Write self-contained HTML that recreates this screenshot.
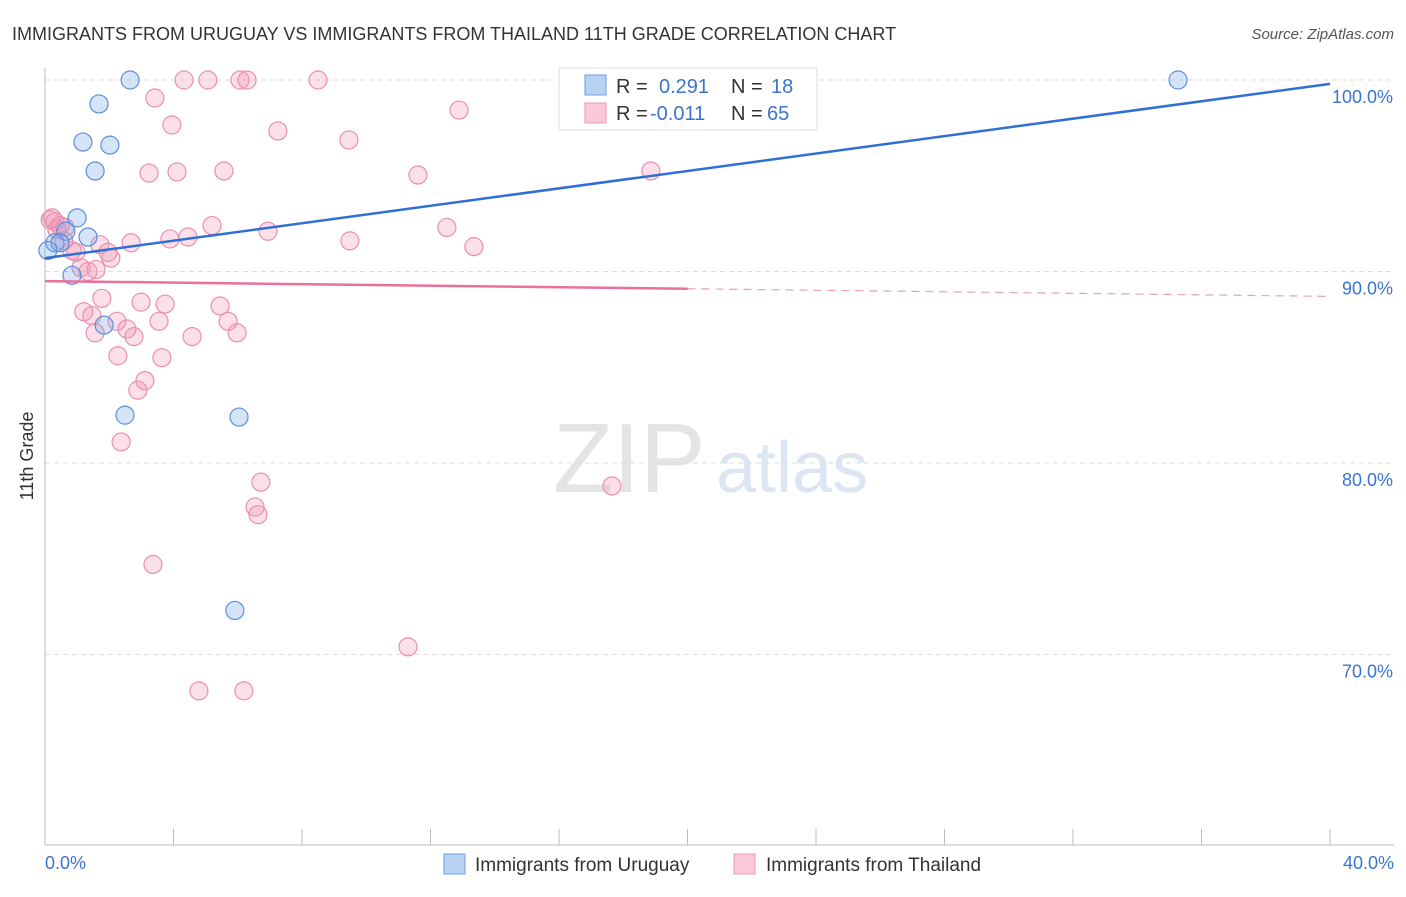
<!DOCTYPE html>
<html><head><meta charset="utf-8"><style>
body{margin:0;background:#fff;font-family:"Liberation Sans",sans-serif;}
svg text{font-family:"Liberation Sans",sans-serif;}
</style></head><body>
<svg id="chart" width="1406" height="892" xmlns="http://www.w3.org/2000/svg">
<text x="12" y="40" font-size="18" fill="#333">IMMIGRANTS FROM URUGUAY VS IMMIGRANTS FROM THAILAND 11TH GRADE CORRELATION CHART</text>
<text x="1394" y="39" font-size="15" fill="#555" text-anchor="end" font-style="italic">Source: ZipAtlas.com</text>
<g>
<text x="553" y="492" font-size="98" fill="#e4e4e4" font-family="Liberation Serif">ZIP</text>
<text x="716" y="492" font-size="72" fill="#dce6f3">atlas</text>
</g>
<g id="grid"></g>
<g id="axes"></g>
<g id="pts"></g>
<g id="trend"></g>
<text x="33" y="456" font-size="18" fill="#333" text-anchor="middle" transform="rotate(-90 33 456)">11th Grade</text>
<g>
<rect x="559" y="68" width="258" height="62" fill="#fff" stroke="#ddd"/>
<rect x="585" y="75" width="21" height="20" fill="#b8d2f4" stroke="#6c9ce0"/>
<rect x="585" y="103" width="21" height="20" fill="#f9c9d7" stroke="#ee9ab5"/>
<text x="616" y="93" font-size="20" fill="#333">R = </text><text x="659" y="93" font-size="20" fill="#3a74d0">0.291</text>
<text x="731" y="93" font-size="20" fill="#333">N = </text><text x="771" y="93" font-size="20" fill="#3a74d0">18</text>
<text x="616" y="120" font-size="20" fill="#333">R = </text><text x="650" y="120" font-size="20" fill="#3a74d0">-0.011</text>
<text x="731" y="120" font-size="20" fill="#333">N = </text><text x="767" y="120" font-size="20" fill="#3a74d0">65</text>
</g>
<g>
<rect x="444" y="854" width="21" height="20" fill="#b8d2f4" stroke="#6c9ce0"/>
<text x="475" y="871" font-size="19" fill="#333">Immigrants from Uruguay</text>
<rect x="734" y="854" width="21" height="20" fill="#f9c9d7" stroke="#ee9ab5"/>
<text x="766" y="871" font-size="19" fill="#333">Immigrants from Thailand</text>
</g>
</svg>
<script>
const xTickLabels=["0.0%","40.0%"];
const yTicks=[100,90,80,70];
const yTickLabels=["100.0%","90.0%","80.0%","70.0%"];
const uruguayX=[2.65,1.68,1.18,2.02,1.56,1.00,1.34,0.65,0.31,0.47,0.09,0.84,1.84,2.49,6.04,5.91,23.56,35.27];
const uruguayY=[100,98.75,96.76,96.6,95.25,92.8,91.8,92.1,91.5,91.5,91.1,89.8,87.2,82.5,82.4,72.3,100,100];
const thailandX=[4.33,5.07,6.07,6.29,8.50,3.42,12.89,3.95,7.25,9.46,3.24,4.11,5.57,11.61,18.86,0.22,0.31,0.37,0.62,0.16,5.20,6.94,12.51,2.68,3.89,4.45,9.49,13.35,0.84,0.96,1.96,2.05,1.12,1.59,1.34,1.77,2.99,3.74,5.45,1.21,1.46,2.24,3.55,5.70,2.55,1.56,2.77,4.58,5.98,2.27,3.64,3.11,2.89,2.37,6.72,17.65,6.54,6.63,3.36,11.30,4.79,6.19,0.47,0.59,1.71];
const thailandY=[100,100,100,100,100,99.06,98.43,97.65,97.34,96.87,95.14,95.2,95.25,95.04,95.25,92.8,92.6,92.2,92.3,92.7,92.4,92.1,92.3,91.5,91.7,91.8,91.6,91.3,91.1,91.0,91.0,90.7,90.2,90.1,90.0,88.6,88.4,88.3,88.2,87.9,87.7,87.4,87.4,87.4,87.0,86.8,86.6,86.6,86.8,85.6,85.5,84.3,83.8,81.1,79.0,78.8,77.7,77.3,74.7,70.4,68.1,68.1,92.4,91.6,91.4];
const uruguayTrend=[90.7,99.8];
const thailandTrend=[89.5,88.7];
const NS="http://www.w3.org/2000/svg";
const sx=v=>45+v/40*1285;
const sy=v=>80+(100-v)*19.15;
function mk(tag,attrs,parent){const e=document.createElementNS(NS,tag);for(const k in attrs)e.setAttribute(k,attrs[k]);document.getElementById(parent).appendChild(e);return e;}
yTicks.forEach((t,i)=>{
 const g=mk('line',{x1:45,x2:1394,y1:sy(t),y2:sy(t),stroke:'#ddd','stroke-dasharray':'5,4'},'grid');
 
 
 const l=mk('text',{x:1393,y:sy(t)+23,'font-size':18,fill:'#3a74d0','text-anchor':'end'},'grid');
 l.textContent=yTickLabels[i];
 
 
});
mk('line',{x1:45,x2:45,y1:68,y2:845,stroke:'#bbb'},'axes');
mk('line',{x1:45,x2:1394,y1:845,y2:845,stroke:'#bbb'},'axes');
for(let i=0;i<=10;i++){
 const t=mk('line',{x1:sx(i*4),x2:sx(i*4),y1:829,y2:845,stroke:'#bbb'},'axes');
 
 
}
const xl0=mk('text',{x:45,y:869,'font-size':18,fill:'#3a74d0'},'axes');xl0.textContent=xTickLabels[0];


const xl1=mk('text',{x:1394,y:869,'font-size':18,fill:'#3a74d0','text-anchor':'end'},'axes');xl1.textContent=xTickLabels[1];


thailandX.forEach((x,i)=>{
 const c=mk('circle',{cx:sx(x),cy:sy(thailandY[i]),r:9,fill:'rgba(242,150,182,0.3)',stroke:'#ea8fae','stroke-width':1.2},'pts');
 
 
});
uruguayX.forEach((x,i)=>{
 const c=mk('circle',{cx:sx(x),cy:sy(uruguayY[i]),r:9,fill:'rgba(120,165,235,0.3)',stroke:'#5b8fd9','stroke-width':1.2},'pts');
 
 
});
const bl=mk('line',{x1:sx(0),y1:sy(uruguayTrend[0]),x2:sx(40),y2:sy(uruguayTrend[1]),stroke:'#2f6fd6','stroke-width':2.5},'trend');


const tmid=thailandTrend[0]+(thailandTrend[1]-thailandTrend[0])*(20/40);
const pl=mk('line',{x1:sx(0),y1:sy(thailandTrend[0]),x2:sx(20),y2:sy(tmid),stroke:'#e8709a','stroke-width':2.5},'trend');


const pd=mk('line',{x1:sx(20),y1:sy(tmid),x2:sx(40),y2:sy(thailandTrend[1]),stroke:'#e8a0b8','stroke-width':1.2,'stroke-dasharray':'8,6'},'trend');


</script>
</body></html>
